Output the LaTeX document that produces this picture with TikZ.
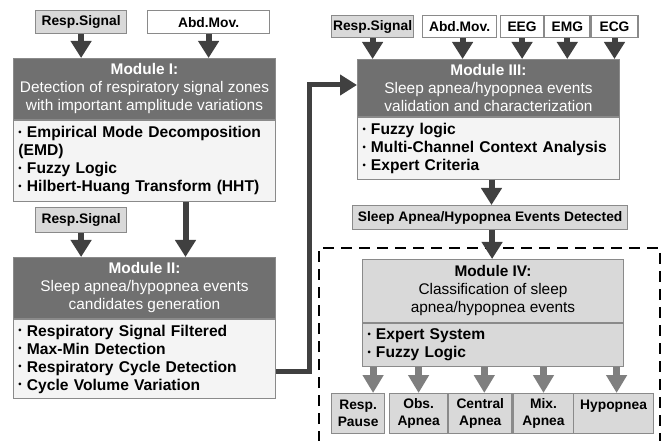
\documentclass[tikz,border=0pt]{standalone}
\usepackage{fontspec}
\setmainfont{Liberation Sans}
\usetikzlibrary{arrows.meta,positioning}

\definecolor{headgray}{HTML}{707070}
\definecolor{bodygray}{HTML}{F4F4F4}
\definecolor{edgegray}{HTML}{8A8A8A}
\definecolor{inputgray}{HTML}{D9D9D9}
\definecolor{arrowgray}{HTML}{404040}
\definecolor{lightarrow}{HTML}{7F7F7F}

% small list bullet
\newcommand{\itm}{\raisebox{0.25ex}{\scalebox{0.6}{•}}\ }

\begin{document}
\begin{tikzpicture}[x=1pt, y=-1pt]
% Define styles
\tikzstyle{signal} = [rectangle, draw=edgegray, line width=1.2pt, fill=inputgray, inner sep=0pt, anchor=north west, minimum height=23pt, font=\fontsize{13.8}{15}\selectfont\bfseries]
\tikzstyle{plainsignal} = [signal, fill=white]
\tikzstyle{modhead} = [rectangle, draw=edgegray, line width=1pt, fill=headgray, text=white, inner sep=0pt, anchor=north west, align=center, font=\fontsize{15.4}{18}\selectfont]
\tikzstyle{modbody} = [rectangle, draw=edgegray, line width=1pt, fill=bodygray, inner xsep=5pt, inner ysep=0pt, text width=252pt, align=left, font=\fontsize{15.6}{18}\selectfont\bfseries]
\tikzstyle{classhead} = [modhead, fill=inputgray, text=black]
\tikzstyle{classbody} = [modbody, fill=inputgray, text width=251pt]
\tikzstyle{outcome} = [signal, align=center, minimum height=40pt, font=\fontsize{13.8}{17}\selectfont\bfseries]
\tikzstyle{arrow} = [line width=6pt, draw=arrowgray, -{Triangle[width=20pt,length=17pt]}]
\tikzstyle{outarrow} = [line width=7pt, draw=lightarrow, -{Triangle[width=20pt,length=18pt]}]

\useasboundingbox (0,0) rectangle (665,441);

% Module I and its inputs
\node (resp1) [signal, minimum width=91pt] at (35,10) {Resp.Signal};
\node (abd1) [plainsignal, minimum width=122pt] at (147,10) {Abd.Mov.};
\node (modI) [modhead, minimum width=262pt, minimum height=61pt] at (13,58) {\textbf{Module I:}\\Detection of respiratory signal zones\\with important amplitude variations};
\node (modIbody) [modbody, minimum height=81pt, below=0pt of modI] {\itm Empirical Mode Decomposition\\(EMD)\\\itm Fuzzy Logic\\\itm Hilbert-Huang Transform (HHT)};

% Module II
\node (resp2) [signal, minimum width=91pt, minimum height=25pt] at (35,207) {Resp.Signal};
\node (modII) [modhead, minimum width=262pt, minimum height=61pt] at (13,257) {\textbf{Module II:}\\Sleep apnea/hypopnea events\\candidates generation};
\node (modIIbody) [modbody, minimum height=79pt, below=0pt of modII] {\itm Respiratory Signal Filtered\\\itm Max-Min Detection\\\itm Respiratory Cycle Detection\\\itm Cycle Volume Variation};

% Module III and its inputs
\node (resp3) [signal, minimum width=82pt, minimum height=22pt] at (331,15) {Resp.Signal};
\node (abd3) [plainsignal, minimum width=74pt, minimum height=22pt] at (422,15) {Abd.Mov.};
\node (eeg) [plainsignal, minimum width=43pt, minimum height=22pt] at (500,15) {EEG};
\node (emg) [plainsignal, minimum width=45pt, minimum height=22pt, right=0pt of eeg] {EMG};
\node (ecg) [plainsignal, minimum width=47pt, minimum height=22pt, right=0pt of emg] {ECG};
\node (modIII) [modhead, minimum width=262pt, minimum height=57pt] at (357,59) {\textbf{Module III:}\\Sleep apnea/hypopnea events\\validation and characterization};
\node (modIIIbody) [modbody, minimum height=62pt, below=0pt of modIII] {\itm Fuzzy logic\\\itm Multi-Channel Context Analysis\\\itm Expert Criteria};

\node (detected) [signal, minimum width=275pt, minimum height=24pt] at (352,205) {Sleep Apnea/Hypopnea Events Detected};

% Module IV inside the dashed frame
\draw [line width=2.6pt, dash pattern=on 11pt off 7pt] (319,460) -- (319,248) -- (660,248) -- (660,460);
\node (modIV) [classhead, minimum width=261pt, minimum height=63pt] at (362,259) {\textbf{Module IV:}\\Classification of sleep\\apnea/hypopnea events};
\node (modIVbody) [classbody, minimum height=43pt, below=0pt of modIV] {\itm Expert System\\\itm Fuzzy Logic};

\node (pause) [outcome, minimum width=53pt] at (331,393) {Resp.\\Pause};
\node (obs) [outcome, minimum width=58pt] at (389,393) {Obs.\\Apnea};
\node (central) [outcome, minimum width=63pt, right=0pt of obs] {Central\\Apnea};
\node (mix) [outcome, minimum width=61pt, right=0pt of central] {Mix.\\Apnea};
\node (hypo) [outcome, minimum width=80pt] at (573,393) {Hypopnea\\\mbox{}};

% Draw arrows
\draw [arrow] (resp1.south) -- (resp1.south |- modI.north);
\draw [arrow] (abd1.south) -- (abd1.south |- modI.north);
\draw [arrow] ([xshift=41pt]modIbody.south) -- ([xshift=41pt]modII.north);
\draw [arrow] (resp2.south) -- (resp2.south |- modII.north);
\draw [arrow, line width=5pt] ([yshift=-12pt]modIIbody.east) -- ++(33,0) |- ([yshift=3pt]modIII.west);
\draw [arrow] (resp3.south) -- (resp3.south |- modIII.north);
\draw [arrow] ([xshift=3pt]abd3.south) -- ([xshift=3pt]abd3.south |- modIII.north);
\draw [arrow] (eeg.south) -- (eeg.south |- modIII.north);
\draw [arrow] (emg.south) -- (emg.south |- modIII.north);
\draw [arrow] (ecg.south) -- (ecg.south |- modIII.north);
\draw [arrow] ([xshift=3pt]modIIIbody.south) -- ([xshift=3pt]modIIIbody.south |- detected.north);
\draw [arrow] ([xshift=2pt]detected.south) -- ([xshift=2pt]detected.south |- modIV.north);
\draw [outarrow] ([xshift=15pt]pause.north |- modIVbody.south) -- ([xshift=15pt]pause.north);
\draw [outarrow] (obs.north |- modIVbody.south) -- (obs.north);
\draw [outarrow] ([xshift=4pt]central.north |- modIVbody.south) -- ([xshift=4pt]central.north);
\draw [outarrow] (mix.north |- modIVbody.south) -- (mix.north);
\draw [outarrow] ([xshift=3pt]hypo.north |- modIVbody.south) -- ([xshift=3pt]hypo.north);
\end{tikzpicture}
\end{document}
